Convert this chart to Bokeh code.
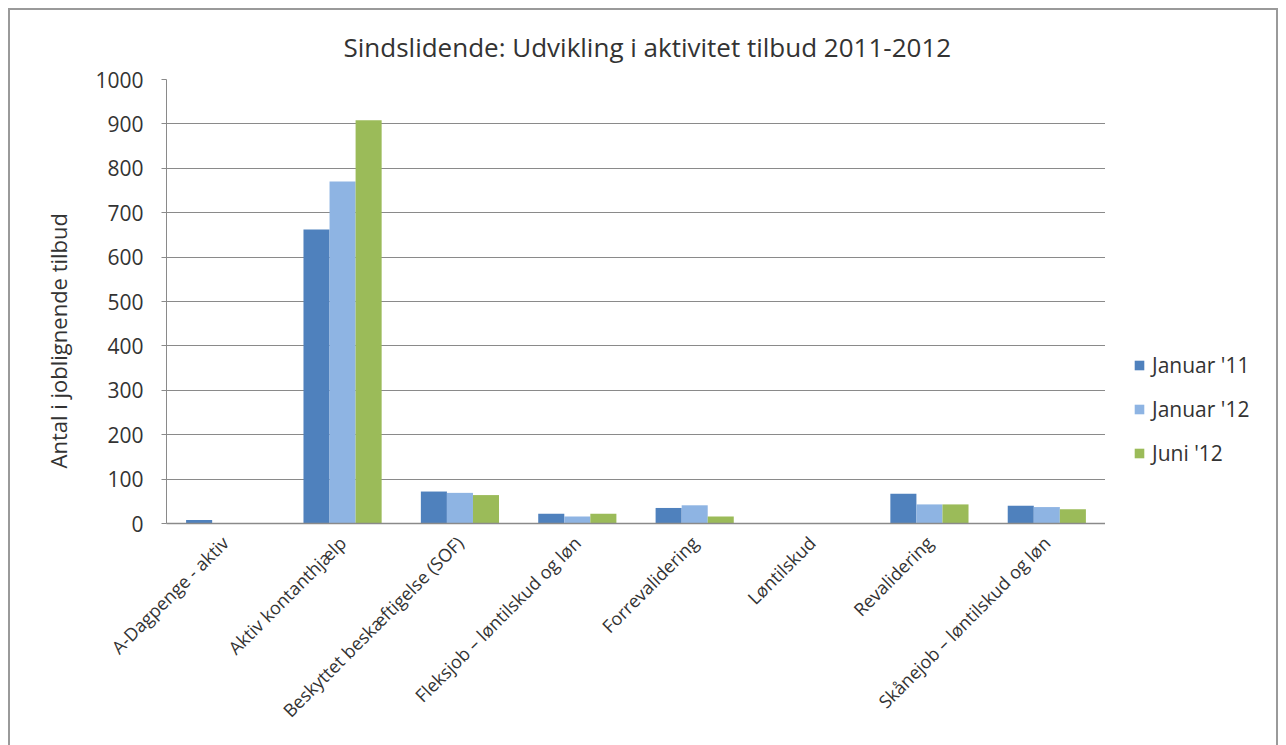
import math
from bokeh.plotting import figure
from bokeh.layouts import row
from bokeh.models import (FactorRange, Range1d, ColumnDataSource, Legend, LegendItem,
                          FixedTicker, Title)
from bokeh.transform import dodge
from bokeh.embed import file_html
from bokeh.resources import INLINE

categories = ["A-Dagpenge - aktiv", "Aktiv kontanthjælp", "Beskyttet beskæftigelse (SOF)",
              "Fleksjob – løntilskud og løn", "Forrevalidering", "Løntilskud",
              "Revalidering", "Skånejob – løntilskud og løn"]
jan11 = [8, 662, 72, 22, 35, 0, 67, 40]
jan12 = [0, 770, 69, 16, 41, 0, 43, 37]
jun12 = [0, 908, 64, 22, 16, 0, 43, 32]
series_names = ["Januar '11", "Januar '12", "Juni '12"]
colors = ["#4F81BD", "#8EB4E3", "#9BBB59"]
y_ticks = list(range(0, 1001, 100))

FONT = "Open Sans"
TXT = "#333333"
GRID = "#8a8a8a"
H = 735

src = ColumnDataSource(dict(cat=categories, jan11=jan11, jan12=jan12, jun12=jun12))
xr = FactorRange(*categories, range_padding=0)

p = figure(width=1095, height=H, output_backend="svg", toolbar_location=None,
           x_range=xr, y_range=Range1d(0, 1000),
           min_border_left=156, min_border_top=69, min_border_right=0, min_border_bottom=222)

p.title.text = "Sindslidende: Udvikling i aktivitet tilbud 2011-2012"
p.title.align = "left"
p.title.offset = 177
p.title.text_font = FONT
p.title.text_font_size = "26px"
p.title.text_font_style = "normal"
p.title.text_color = TXT
p.title.standoff = 30

ylab = Title(text="Antal i joblignende tilbud", align="left", offset=55,
             text_font=FONT, text_font_size="22px", text_font_style="normal",
             text_color=TXT, standoff=39)
p.add_layout(ylab, "left")

keys = ["jan11", "jan12", "jun12"]
for i, (key, col) in enumerate(zip(keys, colors)):
    p.vbar(x=dodge("cat", (i - 1) * 0.222, range=xr), top=key, width=0.222,
           source=src, fill_color=col, line_color=None)

p.outline_line_color = None
p.background_fill_color = "white"
p.border_fill_color = "white"

p.xgrid.grid_line_color = None
p.ygrid.grid_line_color = GRID
p.ygrid.grid_line_width = 1.2
p.yaxis.ticker = FixedTicker(ticks=y_ticks)

p.yaxis.axis_line_color = GRID
p.yaxis.major_tick_line_color = GRID
p.yaxis.major_tick_out = 5
p.yaxis.major_tick_in = 0
p.yaxis.minor_tick_line_color = None
p.yaxis.major_label_text_font = FONT
p.yaxis.major_label_text_font_size = "21px"
p.yaxis.major_label_text_color = TXT
p.yaxis.major_label_standoff = 18

p.xaxis.axis_line_color = GRID
p.xaxis.axis_line_width = 1.5
p.xaxis.major_tick_line_color = None
p.xaxis.minor_tick_line_color = None
p.xaxis.major_label_orientation = math.pi / 4
p.xaxis.major_label_text_font = FONT
p.xaxis.major_label_text_font_size = "18px"
p.xaxis.major_label_text_color = TXT
p.xaxis.major_label_standoff = 10

# legend panel to the right of the plot area (hidden series renderers, legend only)
pl = figure(width=171, height=H, output_backend="svg", toolbar_location=None,
            x_range=xr, y_range=Range1d(0, 1000),
            min_border_left=0, min_border_right=0, min_border_top=0, min_border_bottom=0)
pl.axis.visible = False
pl.grid.visible = False
pl.outline_line_color = None
pl.border_fill_color = "white"
pl.background_fill_color = "white"
items = []
for i, (key, name, col) in enumerate(zip(keys, series_names, colors)):
    r = pl.vbar(x=dodge("cat", (i - 1) * 0.222, range=xr), top=key, width=0.222,
                source=src, fill_color=col, line_color=None, visible=False)
    items.append(LegendItem(label=name, renderers=[r]))
legend = Legend(items=items, location=(28, 56), orientation="vertical",
                glyph_width=12, glyph_height=12, label_height=22, spacing=16,
                label_standoff=7, padding=0, margin=0,
                label_text_font=FONT, label_text_font_size="21px", label_text_color=TXT,
                border_line_color=None, background_fill_alpha=0,
                inactive_fill_alpha=0)
pl.add_layout(legend, "center")

layout = row(p, pl)
layout.styles = {"border-top": "2px solid #9a9a9a", "border-left": "2px solid #9a9a9a",
                 "border-right": "2px solid #9a9a9a", "margin": "8px 0 0 8px"}

open("out.html", "w").write(file_html(layout, INLINE))
